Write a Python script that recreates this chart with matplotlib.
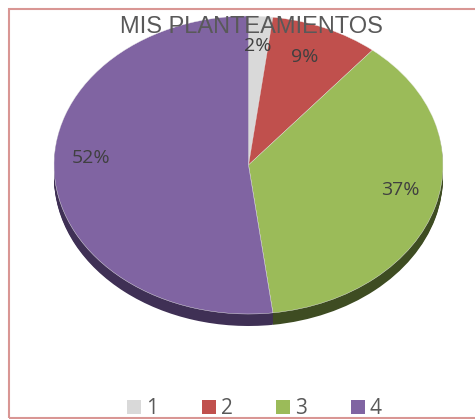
import numpy as np
import matplotlib
matplotlib.use("Agg")
import matplotlib.pyplot as plt
from matplotlib.patches import Rectangle

title = "MIS PLANTEAMIENTOS"
labels = ["1", "2", "3", "4"]
values = [2, 9, 37, 52]
colors = ["#D9D9D9", "#C0504D", "#9BBB59", "#8064A2"]
side_colors = ["#8A8A8A", "#6E2C2A", "#3E4C22", "#3F3055"]

W, H = 475, 419
fig = plt.figure(figsize=(W / 100, H / 100), dpi=100)
fig.patch.set_facecolor("white")

# chart border
fig.patches.append(Rectangle((9 / W, 1 - 418 / H), 480 / W, 409 / H,
                             transform=fig.transFigure, fill=False,
                             edgecolor="#D99694", linewidth=1.5))

# pie axes: ellipse top face center (248.5,165), rx 194.5, ry 149, depth 12px
cx, cy, rx, ry, depth = 248.5, 165, 194.5, 149, 12
d = depth / ry
left = (cx - rx) / W
bottom = 1 - (cy + ry + depth) / H
ax = fig.add_axes([left, bottom, 2 * rx / W, (2 * ry + depth) / H])

for off in np.linspace(d, 0, 14)[:-1]:
    ax.pie(values, colors=side_colors, startangle=90, counterclock=False,
           center=(0, -off), radius=1, wedgeprops=dict(linewidth=0),
           frame=False)

wedges, texts, autotexts = ax.pie(
    values, colors=colors, startangle=90, counterclock=False,
    center=(0, 0), radius=1, autopct="%d%%", pctdistance=0.82,
    wedgeprops=dict(linewidth=0.3, edgecolor="#EEEEEE"),
    textprops=dict(color="#404040", fontsize=14, family="Open Sans"),
    frame=False)
ax.set_aspect("auto")
ax.set_xlim(-1, 1)
ax.set_ylim(-1 - d, 1)
ax.axis("off")

# place labels to match reference positions (in pixels)
label_px = [(258, 46), (305, 57), (400, 190), (91, 158)]
for t, (px, py) in zip(autotexts, label_px):
    t.set_position(((px - cx) / rx, (cy - py) / ry))

fig.text(251 / W, 1 - 27 / H, title, ha="center", va="center",
         fontsize=17, color="#595959", family="Liberation Sans")

# legend
leg_x = [127, 202, 276, 351]
for lab, col, x in zip(labels, colors, leg_x):
    fig.patches.append(Rectangle((x / W, 1 - 414 / H), 14 / W, 14 / H,
                                 transform=fig.transFigure, facecolor=col,
                                 edgecolor="none"))
    fig.text((x + 19) / W, 1 - 408 / H, lab, ha="left", va="center",
             fontsize=15, color="#595959", family="Open Sans")

fig.savefig("out.png", dpi=100)
